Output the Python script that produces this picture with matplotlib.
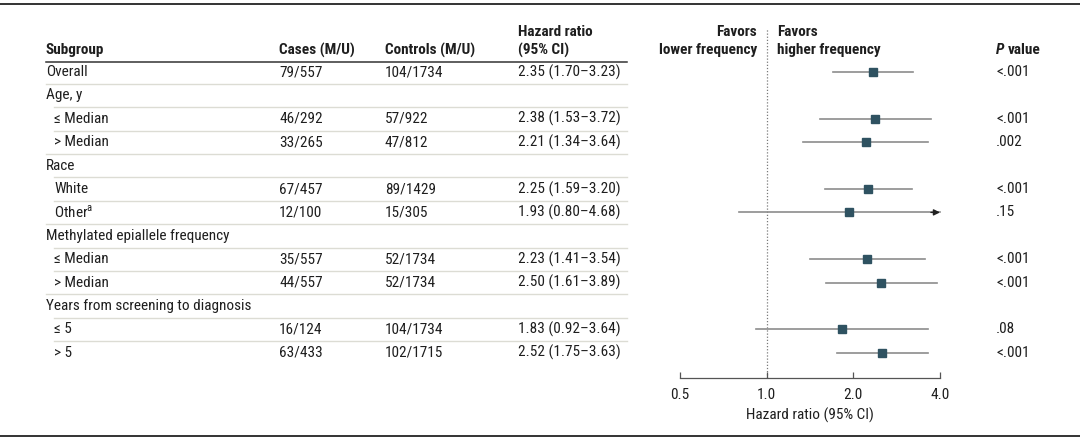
import matplotlib
matplotlib.use("Agg")
import matplotlib.pyplot as plt
import numpy as np
from matplotlib import transforms
from matplotlib.lines import Line2D

FONT = "Roboto Condensed"
plt.rcParams["font.family"] = [FONT, "DejaVu Sans"]
plt.rcParams["mathtext.fontset"] = "custom"
plt.rcParams["mathtext.rm"] = FONT

labels = ["Overall", "Age, y", "≤ Median", "> Median", "Race", "White",
          r"Other$^{\mathrm{a}}$", "Methylated epiallele frequency", "≤ Median",
          "> Median", "Years from screening to diagnosis", "≤ 5", "> 5"]
indented = [False, False, True, True, False, True, True, False, True, True,
            False, True, True]
cases = ["79/557", "", "46/292", "33/265", "", "67/457", "12/100", "",
         "35/557", "44/557", "", "16/124", "63/433"]
controls = ["104/1734", "", "57/922", "47/812", "", "89/1429", "15/305", "",
            "52/1734", "52/1734", "", "104/1734", "102/1715"]
hr = [2.35, np.nan, 2.38, 2.21, np.nan, 2.25, 1.93, np.nan, 2.23, 2.50,
      np.nan, 1.83, 2.52]
lo = [1.70, np.nan, 1.53, 1.34, np.nan, 1.59, 0.80, np.nan, 1.41, 1.61,
      np.nan, 0.92, 1.75]
hi = [3.23, np.nan, 3.72, 3.64, np.nan, 3.20, 4.68, np.nan, 3.54, 3.89,
      np.nan, 3.64, 3.63]
pvals = ["<.001", "", "<.001", ".002", "", "<.001", ".15", "", "<.001",
         "<.001", "", ".08", "<.001"]
xticks = [0.5, 1.0, 2.0, 4.0]

W, H = 1080, 440
TXT = "#1e1e1e"
FS = 11

fig = plt.figure(figsize=(W / 100, H / 100), dpi=100)

# forest axes: x 680..940 px, y 28..378 px
ax = fig.add_axes([680 / W, 1 - 378 / H, 260 / W, 350 / H])
ax.set_xscale("log")
ax.set_xlim(0.5, 4.0)
n = len(labels)
step = 23.4
ax.set_ylim((378 - 72) / step, (28 - 72) / step)

ax.axvline(1.0, color="#7a7a7a", lw=0.9, ls=(0, (1, 1.5)), zorder=1)

for i in range(n):
    if np.isnan(hr[i]):
        continue
    right = min(hi[i], xticks[-1])
    ax.plot([lo[i], right], [i, i], color="#8c8c8c", lw=1.2, zorder=2,
            clip_on=False)
    if hi[i] > xticks[-1]:
        # CI runs past the axis: arrow at the edge
        ax.annotate("", xy=(right, i), xytext=(right * 0.93, i),
                    arrowprops=dict(arrowstyle="-|>", color="#222222",
                                    lw=1.0, mutation_scale=9,
                                    shrinkA=0, shrinkB=0),
                    annotation_clip=False)
    ax.plot(hr[i], i, marker="s", ms=5.5, color="#2f5261", mec="#2f5261",
            zorder=3, clip_on=False)

for s in ["top", "left", "right"]:
    ax.spines[s].set_visible(False)
ax.spines["bottom"].set_color("#555555")
ax.spines["bottom"].set_linewidth(0.9)
ax.set_yticks([])
ax.set_xticks(xticks)
ax.set_xticklabels([f"{v:.1f}" for v in xticks])
ax.xaxis.set_minor_locator(matplotlib.ticker.NullLocator())
ax.tick_params(axis="x", direction="in", length=4, width=0.9,
               colors="#555555", labelcolor=TXT, labelsize=FS, pad=7)
ax.set_xlabel("Hazard ratio (95% CI)", fontsize=FS, color=TXT, labelpad=4)

# blended transform: figure-pixel x, axes-data y
tr = transforms.blended_transform_factory(fig.transFigure, ax.transData)


def fx(px):
    return px / W


x_sub, x_ind, x_cases, x_ctrl, x_hr, x_p = 46, 54, 279, 385, 518, 996
x_end = 627

for i in range(n):
    xl = x_ind if indented[i] else x_sub
    ax.text(fx(xl), i, labels[i], transform=tr, fontsize=FS, color=TXT,
            va="center", ha="left")
    if cases[i]:
        ax.text(fx(x_cases), i, cases[i], transform=tr, fontsize=FS,
                color=TXT, va="center")
        ax.text(fx(x_ctrl), i, controls[i], transform=tr, fontsize=FS,
                color=TXT, va="center")
        ax.text(fx(x_hr), i, f"{hr[i]:.2f} ({lo[i]:.2f}–{hi[i]:.2f})",
                transform=tr, fontsize=FS, color=TXT, va="center")
        ax.text(fx(x_p), i, pvals[i], transform=tr, fontsize=FS, color=TXT,
                va="center")
    # separator above next row
    if i < n - 1:
        start = x_ind if indented[i + 1] else x_sub
        ax.add_line(Line2D([fx(start), fx(x_end)], [i + 0.5, i + 0.5],
                           transform=tr, color="#dcdcd4", lw=1.0,
                           clip_on=False))

# header
hy1, hy2 = (32 - 72) / step, (50 - 72) / step
bold = dict(transform=tr, fontsize=FS, color=TXT, fontweight="bold",
            va="center")
ax.text(fx(x_sub), hy2, "Subgroup", **bold)
ax.text(fx(x_cases), hy2, "Cases (M/U)", **bold)
ax.text(fx(x_ctrl), hy2, "Controls (M/U)", **bold)
ax.text(fx(x_hr), hy1, "Hazard ratio", **bold)
ax.text(fx(x_hr), hy2, "(95% CI)", **bold)
ax.text(fx(757), hy1, "Favors", ha="right", **bold)
ax.text(fx(757), hy2, "lower frequency", ha="right", **bold)
ax.text(fx(777), hy1, "Favors", ha="left", **bold)
ax.text(fx(777), hy2, "higher frequency", ha="left", **bold)
p_txt = ax.text(fx(x_p), hy2, "P", style="italic", **bold)
renderer = fig.canvas.get_renderer()
p_w = p_txt.get_window_extent(renderer).width
ax.text(fx(x_p + p_w + 3), hy2, "value", **bold)
ax.add_line(Line2D([fx(x_sub), fx(x_end)], [(62 - 72) / step] * 2,
                   transform=tr, color="#333333", lw=1.1, clip_on=False))

# top and bottom rules
fig.add_artist(Line2D([0, 1], [1 - 4 / H] * 2, color="#333333", lw=1.4))
fig.add_artist(Line2D([0, 1], [1 - 436 / H] * 2, color="#333333", lw=1.4))

fig.savefig("out.png", dpi=100)
